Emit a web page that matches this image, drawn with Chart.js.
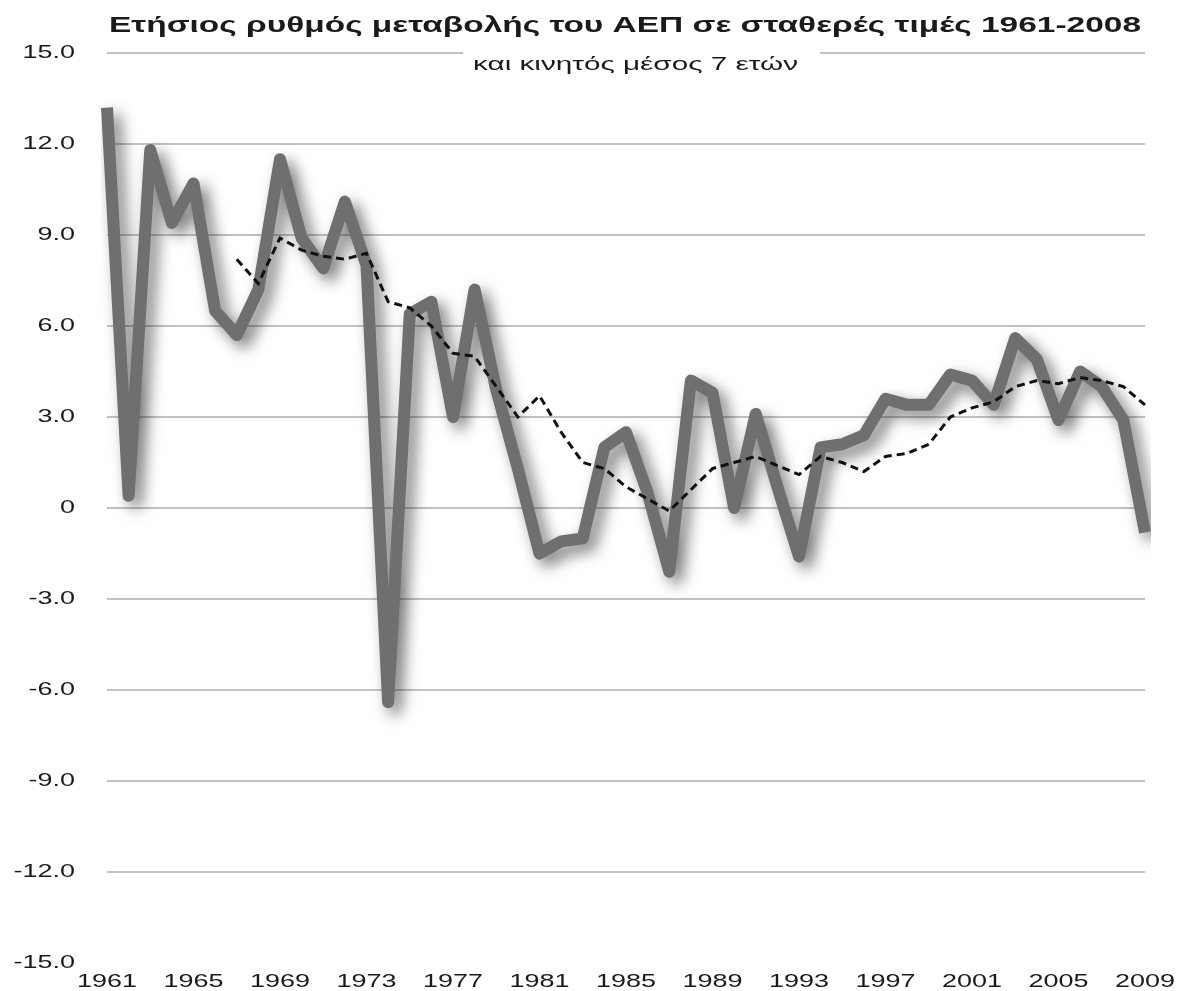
<!DOCTYPE html>
<html>
<head>
<meta charset="utf-8">
<script src="https://cdn.jsdelivr.net/npm/chart.js@4.4.1/dist/chart.umd.min.js"></script>
<style>
  html, body { margin: 0; padding: 0; background: #fff; }
  #wrap { width: 1191px; height: 991px; }
</style>
</head>
<body>
<div id="wrap"><canvas id="gdp" width="1191" height="991"></canvas></div>
<script>
// Ετήσιος ρυθμός μεταβολής ΑΕΠ (%), 1961-2009
const years = [];
for (let y = 1961; y <= 2009; y++) years.push(String(y));

const gdpGrowth = [
  13.2, 0.4, 11.8, 9.4, 10.7, 6.5, 5.7, 7.2, 11.5, 8.9,
  7.9, 10.1, 8.0, -6.4, 6.4, 6.8, 3.0, 7.2, 3.9, 1.3,
  -1.5, -1.1, -1.0, 2.0, 2.5, 0.5, -2.1, 4.2, 3.8, 0.0,
  3.1, 0.7, -1.6, 2.0, 2.1, 2.4, 3.6, 3.4, 3.4, 4.4,
  4.2, 3.4, 5.6, 4.9, 2.9, 4.5, 4.0, 2.9, -0.8
];

// κινητός μέσος 7 ετών (από 1967)
const movingAvg = [
  null, null, null, null, null, null, 8.2, 7.4, 8.9, 8.5,
  8.3, 8.2, 8.4, 6.8, 6.6, 6.0, 5.1, 5.0, 4.0, 3.0,
  3.7, 2.5, 1.5, 1.3, 0.7, 0.3, -0.1, 0.6, 1.3, 1.5,
  1.7, 1.4, 1.1, 1.7, 1.5, 1.2, 1.7, 1.8, 2.1, 3.0,
  3.3, 3.5, 4.0, 4.2, 4.1, 4.3, 4.2, 4.0, 3.4
];

const yTicks = [15, 12, 9, 6, 3, 0, -3, -6, -9, -12, -15];
const xTickEvery = 4;

const titleText = 'Ετήσιος ρυθμός μεταβολής του ΑΕΠ σε σταθερές τιμές 1961-2008';
const subtitleText = 'και κινητός μέσος 7 ετών';

const FONT = "'Liberation Sans', Arial, Helvetica, sans-serif";
const TEXT_COLOR = '#1a1a1a';
const STRETCH = 1.42; // τα γράμματα του πρωτοτύπου είναι πλατιά

// κείμενο τεντωμένο οριζόντια (sx) με στοίχιση left / center / right
function drawWide(ctx, text, x, y, sx, align) {
  const w = ctx.measureText(text).width * sx;
  let left = x;
  if (align === 'center') left = x - w / 2;
  if (align === 'right') left = x - w;
  ctx.save();
  ctx.translate(left, y);
  ctx.scale(sx, 1);
  ctx.textAlign = 'left';
  ctx.fillText(text, 0, 0);
  ctx.restore();
}

function fitWide(ctx, text, x, y, width) {
  const w = ctx.measureText(text).width;
  drawWide(ctx, text, x, y, width / w, 'left');
}

const shadowPlugin = {
  id: 'lineShadow',
  beforeDatasetDraw(chart, args) {
    if (args.index !== 0) return;
    const ctx = chart.ctx;
    ctx.save();
    ctx.shadowColor = 'rgba(0,0,0,0.55)';
    ctx.shadowBlur = 15;
    ctx.shadowOffsetX = 7;
    ctx.shadowOffsetY = 7;
  },
  afterDatasetDraw(chart, args) {
    if (args.index !== 0) return;
    chart.ctx.restore();
  }
};

// ετικέτες αξόνων στις θέσεις των κλιμάκων του Chart.js, με πλατιά γραμματοσειρά
const axisLabelPlugin = {
  id: 'wideTicks',
  afterDraw(chart) {
    const ctx = chart.ctx;
    const xs = chart.scales.x;
    const ys = chart.scales.y;
    ctx.save();
    ctx.fillStyle = TEXT_COLOR;
    ctx.font = '19px ' + FONT;
    ctx.textBaseline = 'middle';
    ys.ticks.forEach(t => {
      const label = t.value === 0 ? '0' : t.value.toFixed(1);
      drawWide(ctx, label, 75, ys.getPixelForValue(t.value), STRETCH, 'right');
    });
    ctx.textBaseline = 'alphabetic';
    xs.ticks.forEach((t, i) => {
      if (i % xTickEvery !== 0) return;
      drawWide(ctx, xs.getLabelForValue(t.value), xs.getPixelForTick(i), 987, STRETCH, 'center');
    });
    ctx.restore();
  }
};

const headerPlugin = {
  id: 'header',
  afterDraw(chart) {
    const ctx = chart.ctx;
    const area = chart.chartArea;
    ctx.save();
    ctx.fillStyle = TEXT_COLOR;
    ctx.textBaseline = 'alphabetic';
    ctx.font = 'bold 22px ' + FONT;
    fitWide(ctx, titleText, 109, 32, 1032);

    // λευκό πλαίσιο υπότιτλου πάνω στη γραμμή 15.0
    ctx.fillStyle = '#fff';
    ctx.fillRect(463, area.top - 8, 357, 34);
    ctx.fillStyle = TEXT_COLOR;
    ctx.font = '18px ' + FONT;
    fitWide(ctx, subtitleText, 473, 70, 325);
    ctx.restore();
  }
};

new Chart(document.getElementById('gdp'), {
  type: 'line',
  data: {
    labels: years,
    datasets: [{
      label: 'ΑΕΠ',
      data: gdpGrowth,
      borderColor: '#6f6f71',
      borderWidth: 12,
      borderJoinStyle: 'round',
      borderCapStyle: 'butt',
      pointRadius: 0,
      tension: 0,
      fill: false,
      order: 1
    }, {
      label: 'Κινητός μέσος 7 ετών',
      data: movingAvg,
      borderColor: '#111',
      borderWidth: 3,
      borderDash: [8, 5],
      pointRadius: 0,
      tension: 0,
      fill: false,
      order: 0
    }]
  },
  options: {
    responsive: false,
    animation: false,
    devicePixelRatio: 1,
    layout: { padding: { top: 53, right: 46, bottom: 0, left: 0 } },
    plugins: {
      legend: { display: false },
      title: { display: false },
      tooltip: { enabled: false }
    },
    scales: {
      x: {
        type: 'category',
        offset: false,
        grid: { display: false, drawTicks: false },
        border: { display: false },
        afterFit(scale) { scale.height = 28; },
        ticks: { display: false, autoSkip: false }
      },
      y: {
        min: -15,
        max: 15,
        afterFit(scale) { scale.width = 107; },
        afterBuildTicks(scale) { scale.ticks = yTicks.map(v => ({ value: v })); },
        grid: {
          drawTicks: false,
          lineWidth: 2,
          color: c => (c.tick && c.tick.value === -15) ? 'rgba(0,0,0,0)' : '#c2c2c2'
        },
        border: { display: false },
        ticks: { display: false }
      }
    }
  },
  plugins: [shadowPlugin, axisLabelPlugin, headerPlugin]
});
</script>
</body>
</html>
